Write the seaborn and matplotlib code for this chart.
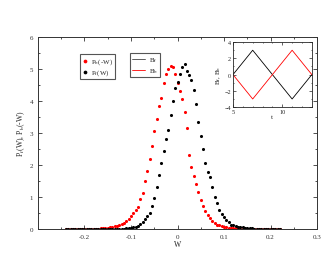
import numpy as np
import pandas as pd
import matplotlib
matplotlib.use('Agg')
import matplotlib.pyplot as plt
from matplotlib.ticker import MultipleLocator
import seaborn as sns

# work values W (bin centres) and the two distributions
w = [-0.240, -0.235, -0.230, -0.225, -0.220, -0.215, -0.210, -0.205, -0.200, -0.195,
     -0.190, -0.185, -0.180, -0.175, -0.170, -0.165, -0.160, -0.155, -0.150, -0.145,
     -0.140, -0.135, -0.130, -0.125, -0.120, -0.115, -0.110, -0.105, -0.100, -0.095,
     -0.090, -0.085, -0.080, -0.075, -0.070, -0.065, -0.060, -0.055, -0.050, -0.045,
     -0.040, -0.035, -0.030, -0.025, -0.020, -0.015, -0.010, -0.005, 0.000, 0.005,
     0.010, 0.015, 0.020, 0.025, 0.030, 0.035, 0.040, 0.045, 0.050, 0.055,
     0.060, 0.065, 0.070, 0.075, 0.080, 0.085, 0.090, 0.095, 0.100, 0.105,
     0.110, 0.115, 0.120, 0.125, 0.130, 0.135, 0.140, 0.145, 0.150, 0.155,
     0.160, 0.165, 0.170, 0.175, 0.180, 0.185, 0.190, 0.195, 0.200, 0.205,
     0.210, 0.215, 0.220]

p_f = [0, 0, 0, 0, 0, 0, 0, 0, 0, 0,
       0, 0, 0, 0, 0, 0, 0, 0, 0, 0,
       0, 0, 0, 0, 0.01, 0.01, 0.02, 0.02, 0.03, 0.05,
       0.07, 0.10, 0.15, 0.22, 0.30, 0.40, 0.50, 0.72, 0.98, 1.30,
       1.70, 2.05, 2.45, 2.80, 3.10, 3.55, 4.00, 4.40, 4.60, 4.85,
       5.05, 5.15, 4.95, 4.80, 4.65, 4.35, 3.90, 3.35, 2.90, 2.50,
       2.05, 1.78, 1.62, 1.30, 1.00, 0.80, 0.60, 0.47, 0.37, 0.28,
       0.21, 0.14, 0.11, 0.08, 0.07, 0.06, 0.05, 0.04, 0.03, 0.02,
       0.02, 0.01, 0.01, 0, 0, 0, 0, 0, 0, 0,
       0, 0, 0]

p_b = [0, 0, 0, 0, 0, 0, 0, 0, 0, 0,
       0, 0, 0, 0, 0.01, 0.02, 0.03, 0.03, 0.04, 0.05,
       0.06, 0.08, 0.10, 0.12, 0.16, 0.20, 0.25, 0.32, 0.40, 0.50,
       0.60, 0.70, 0.95, 1.12, 1.50, 1.80, 2.20, 2.60, 3.05, 3.45,
       3.85, 4.10, 4.55, 4.85, 5.00, 5.10, 5.05, 4.85, 4.55, 4.30,
       4.05, 3.65, 3.15, 2.30, 1.95, 1.65, 1.40, 1.15, 0.90, 0.72,
       0.57, 0.45, 0.35, 0.25, 0.18, 0.14, 0.11, 0.09, 0.07, 0.05,
       0.04, 0.03, 0.02, 0.02, 0.01, 0, 0, 0, 0, 0,
       0, 0, 0, 0, 0, 0, 0, 0, 0, 0,
       0, 0, 0]

# protocol for the inset
t = [5, 7, 11, 13]
b_f = [0, 3, -3, 0]
b_b = [0, -3, 3, 0]

sns.set_style('ticks')
plt.rcParams['font.family'] = ['Liberation Serif', 'DejaVu Serif']
plt.rcParams['mathtext.fontset'] = 'stix'

fig = plt.figure(figsize=(3.3, 2.55), dpi=100)
ax = fig.add_axes([0.115, 0.098, 0.846, 0.753])

df = pd.DataFrame({'W': w, 'Pf': p_f, 'Pb': p_b})
sns.scatterplot(data=df, x='W', y='Pb', color='red', s=5, linewidth=0,
                label=r'P$_\mathrm{b}$(-W)', ax=ax)
sns.scatterplot(data=df, x='W', y='Pf', color='black', s=5, linewidth=0,
                label=r'P$_\mathrm{f}$(W)', ax=ax)

ax.set_xlim(-0.3, 0.3)
ax.set_ylim(0, 6)
ax.xaxis.set_major_locator(MultipleLocator(0.1))
ax.xaxis.set_minor_locator(MultipleLocator(0.05))
ax.yaxis.set_major_locator(MultipleLocator(1))
ax.yaxis.set_minor_locator(MultipleLocator(0.5))
ax.tick_params(which='both', direction='in', top=True, right=True, labelsize=5,
               width=0.6, colors='#333333')
ax.tick_params(which='major', length=3)
ax.tick_params(which='minor', length=1.5)
ax.set_xticks([-0.2, -0.1, 0, 0.1, 0.2, 0.3])
ax.set_xticklabels(['-0.2', '-0.1', '0', '0.1', '0.2', '0.3'])
ax.set_xlim(-0.3, 0.3)
for sp in ax.spines.values():
    sp.set_linewidth(0.7)
    sp.set_color('#333333')
ax.set_xlabel('W', fontsize=5.5, labelpad=1)
ax.set_ylabel(r'P$_\mathrm{f}$(W), P$_\mathrm{b}$(-W)', fontsize=5.5, labelpad=2)

leg = ax.legend(loc='upper left', bbox_to_anchor=(0.137, 0.93), fontsize=5,
                fancybox=False, framealpha=1, edgecolor='#555555',
                handletextpad=0.3, markerscale=1.2, borderpad=0.3,
                labelspacing=0.25, handlelength=1.0)
leg.get_frame().set_linewidth(0.8)

# inset with the switching protocol
ins = fig.add_axes([0.706, 0.576, 0.239, 0.255])
prot = pd.DataFrame({'t': t + t, 'B': b_f + b_b,
                     'kind': [r'B$_\mathrm{f}$'] * 4 + [r'B$_\mathrm{b}$'] * 4})
sns.lineplot(data=prot, x='t', y='B', hue='kind', palette=['black', 'red'],
             linewidth=0.6, ax=ins, legend=False)
ins.set_xlim(5, 13)
ins.set_ylim(-4, 4)
ins.xaxis.set_major_locator(MultipleLocator(5))
ins.xaxis.set_minor_locator(MultipleLocator(1))
ins.yaxis.set_major_locator(MultipleLocator(2))
ins.yaxis.set_minor_locator(MultipleLocator(1))
ins.tick_params(which='both', direction='in', top=True, right=True, labelsize=4.5,
                width=0.5, pad=1.5)
ins.tick_params(which='major', length=2)
ins.tick_params(which='minor', length=1)
for sp in ins.spines.values():
    sp.set_linewidth(0.6)
ins.set_xlabel('t', fontsize=5, labelpad=0)
ins.set_ylabel(r'B$_\mathrm{f}$, B$_\mathrm{b}$', fontsize=5, labelpad=1)

# second legend box for the inset lines
h1, = ax.plot([], [], color='#444444', lw=0.6)
h2, = ax.plot([], [], color='red', lw=0.6)
leg2 = fig.legend([h1, h2], [r'B$_\mathrm{f}$', r'B$_\mathrm{b}$'], loc='upper left',
                  bbox_to_anchor=(0.384, 0.80), fontsize=5, fancybox=False,
                  framealpha=1, edgecolor='#555555', handlelength=1.8,
                  handletextpad=0.6, borderpad=0.3, labelspacing=0.25)
leg2.get_frame().set_linewidth(0.8)

fig.savefig('out.png', dpi=100)
